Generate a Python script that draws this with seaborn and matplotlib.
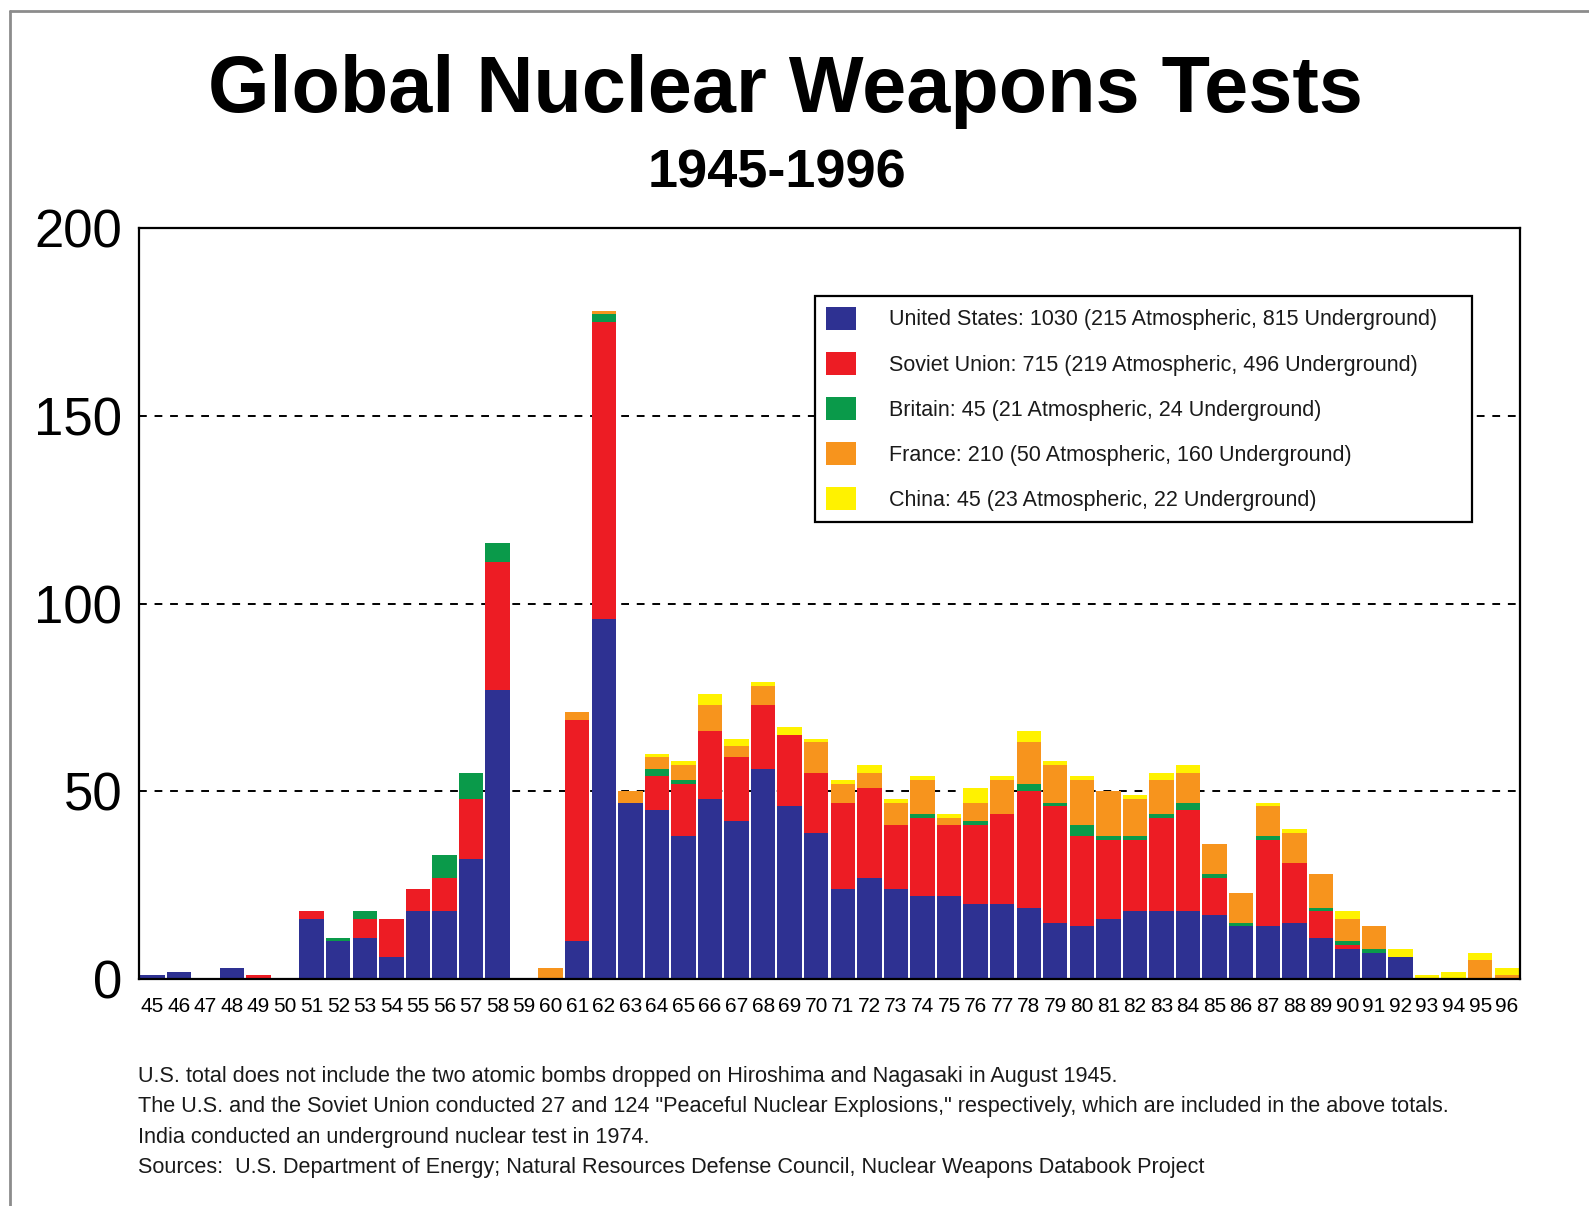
import matplotlib
matplotlib.use("Agg")
import matplotlib.pyplot as plt
import seaborn as sns
from matplotlib.patches import Patch
from matplotlib.lines import Line2D

years = [str(y)[2:] for y in range(1945, 1997)]

us = [1, 2, 0, 3, 0, 0, 16, 10, 11, 6, 18, 18, 32, 77, 0, 0, 10, 96, 47, 45,
      38, 48, 42, 56, 46, 39, 24, 27, 24, 22, 22, 20, 20, 19, 15, 14, 16, 18,
      18, 18, 17, 14, 14, 15, 11, 8, 7, 6, 0, 0, 0, 0]
ussr = [0, 0, 0, 0, 1, 0, 2, 0, 5, 10, 6, 9, 16, 34, 0, 0, 59, 79, 0, 9,
        14, 18, 17, 17, 19, 16, 23, 24, 17, 21, 19, 21, 24, 31, 31, 24, 21, 19,
        25, 27, 10, 0, 23, 16, 7, 1, 0, 0, 0, 0, 0, 0]
uk = [0, 0, 0, 0, 0, 0, 0, 1, 2, 0, 0, 6, 7, 5, 0, 0, 0, 2, 0, 2,
      1, 0, 0, 0, 0, 0, 0, 0, 0, 1, 0, 1, 0, 2, 1, 3, 1, 1,
      1, 2, 1, 1, 1, 0, 1, 1, 1, 0, 0, 0, 0, 0]
france = [0, 0, 0, 0, 0, 0, 0, 0, 0, 0, 0, 0, 0, 0, 0, 3, 2, 1, 3, 3,
          4, 7, 3, 5, 0, 8, 5, 4, 6, 9, 2, 5, 9, 11, 10, 12, 12, 10,
          9, 8, 8, 8, 8, 8, 9, 6, 6, 0, 0, 0, 5, 1]
china = [0, 0, 0, 0, 0, 0, 0, 0, 0, 0, 0, 0, 0, 0, 0, 0, 0, 0, 0, 1,
         1, 3, 2, 1, 2, 1, 1, 2, 1, 1, 1, 4, 1, 3, 1, 1, 0, 1,
         2, 2, 0, 0, 1, 1, 0, 2, 0, 2, 1, 2, 2, 2]

legend_labels = [
    "United States: 1030 (215 Atmospheric, 815 Underground)",
    "Soviet Union: 715 (219 Atmospheric, 496 Underground)",
    "Britain: 45 (21 Atmospheric, 24 Underground)",
    "France: 210 (50 Atmospheric, 160 Underground)",
    "China: 45 (23 Atmospheric, 22 Underground)",
]
colors = ["#2e3192", "#ed1c24", "#0a9a4a", "#f7941d", "#fff200"]

footnotes = [
    "U.S. total does not include the two atomic bombs dropped on Hiroshima and Nagasaki in August 1945.",
    "The U.S. and the Soviet Union conducted 27 and 124 \"Peaceful Nuclear Explosions,\" respectively, which are included in the above totals.",
    "India conducted an underground nuclear test in 1974.",
    "Sources:  U.S. Department of Energy; Natural Resources Defense Council, Nuclear Weapons Databook Project",
]

sns.set_style("white")
plt.rcParams["font.family"] = ["Liberation Sans", "DejaVu Sans"]
plt.rcParams["text.color"] = "black"
plt.rcParams["xtick.color"] = "black"
plt.rcParams["ytick.color"] = "black"

fig = plt.figure(figsize=(15.89, 12.06), dpi=100)
ax = fig.add_axes([0.0875, 0.1882, 0.8691, 0.6227])

# stacked bars: draw cumulative totals from the top layer down
series = [us, ussr, uk, france, china]
for k in range(len(series), 0, -1):
    cum = [sum(s[i] for s in series[:k]) for i in range(len(years))]
    sns.barplot(x=years, y=cum, color=colors[k - 1], saturation=1,
                width=0.92, linewidth=0, errorbar=None, ax=ax, zorder=2)

for v in [50, 100, 150]:
    ax.axhline(v, color="black", lw=1.4, ls=(0, (4, 4)), zorder=1)

ax.set_xlim(-0.5, len(years) - 0.5)
ax.set_ylim(0, 200)
ax.set_yticks([0, 50, 100, 150, 200])
ax.set_xlabel("")
ax.set_ylabel("")
ax.tick_params(axis="y", length=0, pad=12, labelsize=38)
ax.tick_params(axis="x", length=0, pad=13, labelsize=15)
for sp in ax.spines.values():
    sp.set_visible(True)
    sp.set_color("black")
    sp.set_linewidth(1.6)

handles = [Patch(facecolor=c, edgecolor="none") for c in colors]
leg = ax.legend(handles, legend_labels, loc="upper left", mode="expand",
                bbox_to_anchor=(0.4895, 0.5, 0.476, 0.4095), borderaxespad=0,
                fontsize=15.5, frameon=True, fancybox=False, framealpha=1,
                handlelength=1.4, handleheight=1.25, handletextpad=1.55,
                labelspacing=1.0, borderpad=0.5)
leg.get_frame().set_edgecolor("black")
leg.get_frame().set_linewidth(1.6)
leg.set_zorder(5)
for t in leg.get_texts():
    t.set_color("#1a1a1a")

fig.text(0.494, 0.9075, "Global Nuclear Weapons Tests", ha="center",
         va="baseline", fontsize=57, fontweight="bold", color="black")
fig.text(0.489, 0.8445, "1945-1996", ha="center", va="baseline",
         fontsize=39, fontweight="bold", color="black")

for i, line in enumerate(footnotes):
    fig.text(0.0868, 1 - (1082 + 30.4 * i) / 1206, line, ha="left",
             va="baseline", fontsize=15.6, color="#1a1a1a")

# outer frame: only the top and left edges fall inside the picture
fig.add_artist(Line2D([10 / 1589, 10 / 1589], [0, 1 - 11 / 1206],
                      transform=fig.transFigure, color="#8c8c8c", lw=2))
fig.add_artist(Line2D([10 / 1589, 1], [1 - 11 / 1206, 1 - 11 / 1206],
                      transform=fig.transFigure, color="#8c8c8c", lw=2))

fig.savefig("out.png", dpi=100)
